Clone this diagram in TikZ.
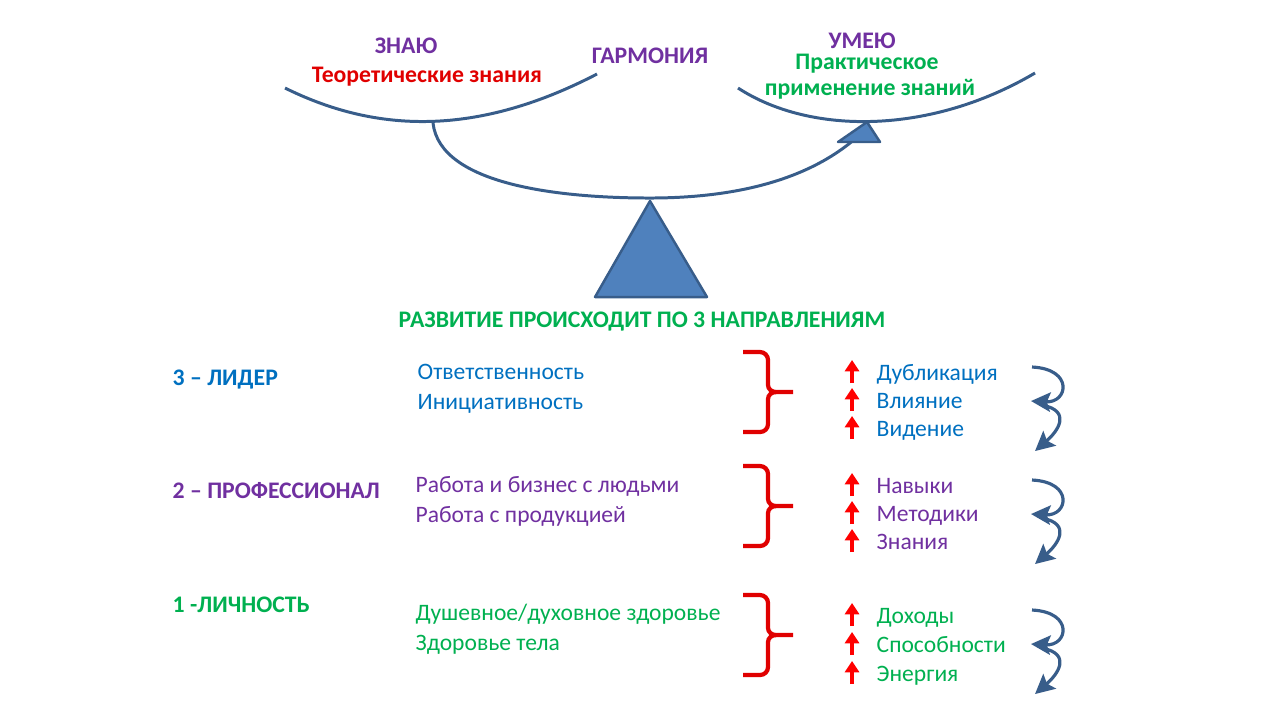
\documentclass[tikz,border=0pt]{standalone}
\usepackage{fontspec}
\setmainfont{Carlito}
\usepackage{xcolor}
\usetikzlibrary{positioning,calc,arrows.meta}
\definecolor{kpurple}{HTML}{7030A0}
\definecolor{kred}{HTML}{E00000}
\definecolor{kgreen}{HTML}{00B050}
\definecolor{kblue}{HTML}{0070C0}
\definecolor{beam}{HTML}{385D8A}
\definecolor{weight}{HTML}{4F81BD}
% red brace round one group, #1 = top edge
\newcommand{\groupbrace}[1]{%
  \draw[brace] (743,#1) -- (760,#1) to[out=0,in=90] (768,#1+8) -- (768,#1+33)
    to[out=-90,in=180] (776,#1+40) -- (793,#1+40);
  \draw[brace] (743,#1+80) -- (760,#1+80) to[out=0,in=-90] (768,#1+72) -- (768,#1+47)
    to[out=90,in=180] (776,#1+40);}
% two turning arrows, #1 = top edge
\newcommand{\turnarrows}[1]{%
  \draw[turn] (1032,#1) .. controls (1074,#1+2) and (1068,#1+36) .. (1031,#1+34);
  \draw[turn] (1042,#1+38) .. controls (1072,#1+44) and (1058,#1+64) .. (1035,#1+84);}
% small red up arrow left of a word
\newcommand{\riseat}[1]{%
  \draw[rise] ($(#1.base west)+(-24,3)$) -- ++(0,-23);}

\begin{document}
\begin{tikzpicture}[x=0.01cm,y=-0.01cm,
  head/.style={font=\fontsize{6.75}{8}\selectfont\bfseries, inner sep=0pt, anchor=base},
  word/.style={font=\fontsize{6.7}{8.3}\selectfont, inner sep=0pt, anchor=base west},
  level/.style={head, anchor=base west},
  pan/.style={draw=beam, line width=0.85pt},
  weightbox/.style={fill=weight, draw=beam, line width=0.7pt, line join=round},
  brace/.style={draw=kred, line width=1.2pt},
  rise/.style={draw=red, line width=1pt, -{Triangle[length=3.2pt,width=4pt]}},
  turn/.style={draw=beam, line width=0.9pt, -{Stealth[length=5.5pt,width=5.5pt,inset=1pt]}}
]
\useasboundingbox (0,0) rectangle (1280,720);

% scales
\coordinate (lpan) at (433,123);
\draw[pan] (285,88) .. controls (370,130) and (470,140) .. (597,74);
\draw[pan] (738,88) .. controls (810,135) and (930,135) .. (1035,73);
\draw[pan] (lpan) .. controls (440,185) and (560,198) .. (650,198)
  .. controls (740,198) and (810,178) .. (856,138);
\draw[weightbox] (867,122) -- (880,142) -- (838,142) -- cycle;
\draw[weightbox] (650,201) -- (707,297) -- (595,297) -- cycle;

\node[head, kpurple] (know) at (406,53) {ЗНАЮ};
\node[head, kred] (theory) at (427,82) {Теоретические знания};
\node[head, kpurple] (harmony) at (650,63) {ГАРМОНИЯ};
\node[head, kpurple] (can) at (862,48) {УМЕЮ};
\node[head, kgreen] (practice) at (867,69) {Практическое};
\node[head, kgreen] (apply) at (870,95) {применение знаний};
\node[head, kgreen] (ways) at (642,327) {РАЗВИТИЕ ПРОИСХОДИТ ПО 3 НАПРАВЛЕНИЯМ};

% 3 - leader
\node[level, kblue] (leader) at (172,385) {3 – ЛИДЕР};
\node[word, kblue, align=left] (resp) at (417,409) {Ответственность\\Инициативность};
\groupbrace{352}
\node[word, kblue] (dub) at (876,380) {Дубликация};
\node[word, kblue] (infl) at (876,408) {Влияние};
\node[word, kblue] (vis) at (876,436) {Видение};
\riseat{dub} \riseat{infl} \riseat{vis}
\turnarrows{367}

% 2 - professional
\node[level, kpurple] (prof) at (172,498) {2 – ПРОФЕССИОНАЛ};
\node[word, kpurple, align=left] (work) at (415,522) {Работа и бизнес с людьми\\Работа с продукцией};
\groupbrace{466}
\node[word, kpurple] (skill) at (876,493) {Навыки};
\node[word, kpurple] (meth) at (876,521) {Методики};
\node[word, kpurple] (kn) at (876,549) {Знания};
\riseat{skill} \riseat{meth} \riseat{kn}
\turnarrows{480}

% 1 - person
\node[level, kgreen] (person) at (172,612) {1 -ЛИЧНОСТЬ};
\node[word, kgreen, align=left] (health) at (415,650) {Душевное/духовное здоровье\\Здоровье тела};
\groupbrace{595}
\node[word, kgreen] (inc) at (876,623) {Доходы};
\node[word, kgreen] (abil) at (876,652) {Способности};
\node[word, kgreen] (energy) at (876,681) {Энергия};
\riseat{inc} \riseat{abil} \riseat{energy}
\turnarrows{610}
\end{tikzpicture}
\end{document}
